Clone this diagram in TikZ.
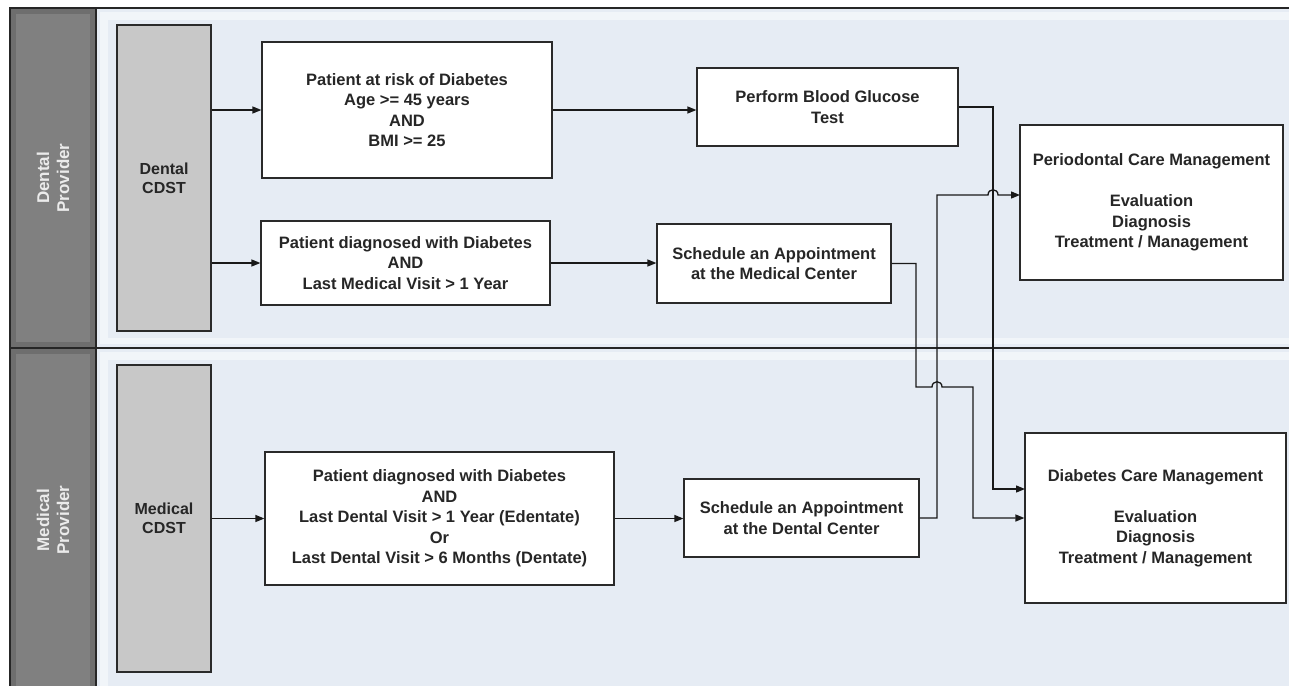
\documentclass[tikz,border=0pt]{standalone}
\usepackage{fontspec}
\setmainfont{Liberation Sans}
\usetikzlibrary{arrows.meta}
\definecolor{lanebg}{HTML}{E6ECF4}
\definecolor{headbg}{HTML}{6E6E6E}
\definecolor{cdstbg}{HTML}{C8C8C8}
\definecolor{boxline}{HTML}{2A2A2A}
\tikzset{
  frame/.style={line width=1.3pt, draw=black!85},
  stepbox/.style={draw=boxline, line width=1.2pt, fill=white, align=center, inner sep=0pt,
    font=\bfseries\fontsize{16.5}{20.5}\selectfont, text=black!85},
  cdstbox/.style={draw=boxline, line width=1.2pt, fill=cdstbg, align=center, inner sep=0pt,
    font=\bfseries\fontsize{16}{19}\selectfont, text=black!85},
  headtext/.style={rotate=90, align=center, text=white!92!black,
    font=\bfseries\fontsize{17}{20}\selectfont},
  conn/.style={line width=1.3pt, draw=black!90},
  arr/.style={conn, -{Triangle[length=9pt,width=7pt]}}
}
\begin{document}
\begin{tikzpicture}[x=1pt,y=-1pt]
\useasboundingbox (0,0) rectangle (1289,686);
% lanes
\fill[white] (0,0) rectangle (1289,686);
\fill[lanebg] (10,8) rectangle (1289,686);
\fill[white!45!lanebg] (100,12) rectangle (1289,344);
\fill[lanebg] (108,20) rectangle (1289,338);
\fill[white!45!lanebg] (100,352) rectangle (1289,686);
\fill[lanebg] (108,360) rectangle (1289,686);
\fill[headbg] (10,8) rectangle (96,686);
\fill[headbg!88!white] (16,14) rectangle (90,342);
\fill[headbg!88!white] (16,354) rectangle (90,686);
\draw[frame] (1289,8) -- (10,8) -- (10,686);
\draw[frame] (96,8) -- (96,686);
\draw[frame] (10,348) -- (1289,348);
\node[headtext] (hd) at (53,178) {Dental\\Provider};
\node[headtext] (hm) at (53,520) {Medical\\Provider};
% CDST
\node[cdstbox, minimum width=94pt, minimum height=306pt] (dcdst) at (164,178) {Dental\\CDST};
\node[cdstbox, minimum width=94pt, minimum height=307pt] (mcdst) at (164,518.5) {Medical\\CDST};
% steps
\node[stepbox, minimum width=290pt, minimum height=136pt] (risk) at (407,110)
  {Patient at risk of Diabetes\\Age >= 45 years\\AND\\BMI >= 25};
\node[stepbox, minimum width=289pt, minimum height=84pt] (diagd) at (405.5,263)
  {Patient diagnosed with Diabetes\\AND\\Last Medical Visit > 1 Year};
\node[stepbox, minimum width=261pt, minimum height=78pt] (bgt) at (827.5,107)
  {Perform Blood Glucose\\Test};
\node[stepbox, minimum width=234pt, minimum height=79pt] (schm) at (774,263.5)
  {Schedule an Appointment\\at the Medical Center};
\node[stepbox, minimum width=263pt, minimum height=155pt] (perio) at (1151.5,202.5)
  {Periodontal Care Management\\[20.5pt]Evaluation\\Diagnosis\\Treatment / Management};
\node[stepbox, minimum width=349pt, minimum height=133pt] (diagm) at (439.5,518.5)
  {Patient diagnosed with Diabetes\\AND\\Last Dental Visit > 1 Year (Edentate)\\Or\\Last Dental Visit > 6 Months (Dentate)};
\node[stepbox, minimum width=235pt, minimum height=78pt] (schd) at (801.5,518)
  {Schedule an Appointment\\at the Dental Center};
\node[stepbox, minimum width=261pt, minimum height=170pt] (diab) at (1155.5,518)
  {Diabetes Care Management\\[20.5pt]Evaluation\\Diagnosis\\Treatment / Management};
% connectors
\draw[arr] (dcdst.east |- risk.west) -- (risk.west);
\draw[arr] (dcdst.east |- diagd.west) -- (diagd.west);
\draw[arr] (mcdst.east |- diagm.west) -- (diagm.west);
\draw[arr] (risk.east) -- (risk.east -| bgt.west);
\draw[arr] (diagd.east) -- (diagd.east -| schm.west);
\draw[arr] (diagm.east) -- (diagm.east -| schd.west);
\coordinate (d1) at (1025,489);
\coordinate (p1) at (1020,195);
% blood glucose -> diabetes care
\draw[arr] (bgt.east) -- (993,107) -- (993,489) -- (d1);
% schedule medical -> diabetes care (jump over x=937)
\draw[arr] (schm.east) -- (916,263.5) -- (916,387) -- (932,387)
  .. controls (932,380) and (942,380) .. (942,387) -- (973,387) -- (973,518) -- (diab.west);
% schedule dental -> periodontal (jump over x=993)
\draw[arr] (schd.east) -- (937,518) -- (937,195) -- (988,195)
  .. controls (988,188) and (998,188) .. (998,195) -- (p1);
\end{tikzpicture}
\end{document}
